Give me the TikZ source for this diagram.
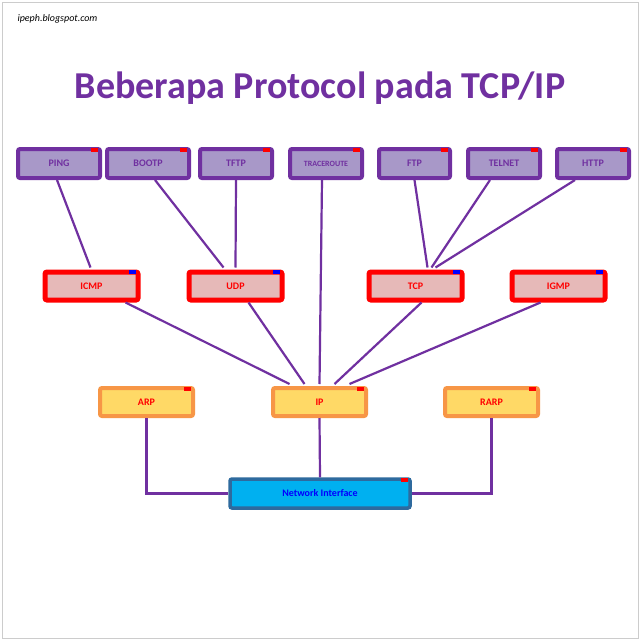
\documentclass[tikz,border=0pt]{standalone}
\usepackage{fontspec}
\setmainfont{Carlito}
\begin{document}
\begin{tikzpicture}[x=1pt,y=-1pt,
 topb/.style={draw=purpleD,fill=purpleL,line width=4pt,rounded corners=2pt,text=purpleD,font=\bfseries\fontsize{10}{11}\selectfont},
 midb/.style={draw=red,fill=pinkL,line width=5pt,rounded corners=2pt,text=red,font=\bfseries\fontsize{10}{11}\selectfont},
 lowb/.style={draw=orangeD,fill=yellowL,line width=4pt,rounded corners=2pt,text=red,font=\bfseries\fontsize{10}{11}\selectfont},
 nib/.style={draw=blueD,fill=cyanL,line width=3.5pt,rounded corners=2pt,text=blue,font=\bfseries\fontsize{10}{11}\selectfont},
 ln/.style={draw=purpleD,line width=2.2pt}]
\definecolor{purpleD}{HTML}{7030A0}
\definecolor{purpleL}{HTML}{A898C8}
\definecolor{pinkL}{HTML}{E6B9B8}
\definecolor{orangeD}{HTML}{F79646}
\definecolor{yellowL}{HTML}{FFD966}
\definecolor{blueD}{HTML}{2E6A9E}
\definecolor{cyanL}{HTML}{00B0F0}
\useasboundingbox (0,0) rectangle (640,640);
\fill[white] (0,0) rectangle (640,640);
\draw[gray!40,line width=1pt] (2,2) rectangle (638,638);
\node[anchor=west,font=\itshape\fontsize{10}{11}\selectfont] (site) at (14,19) {ipeph.blogspot.com};
\node[text=purpleD,font=\bfseries\fontsize{38}{44}\selectfont] (title) at (320,88) {Beberapa Protocol pada TCP/IP};
\newcommand\mybox[7]{\node[#1,minimum width=#4-#2-4,minimum height=#5-#3-4,inner sep=0pt] (#6) at ({(#2+#4)/2},{(#3+#5)/2}) {#7};}
\mybox{topb}{16}{147}{102}{180}{ping}{PING}
\mybox{topb}{105}{147}{191}{180}{bootp}{BOOTP}
\mybox{topb}{198}{147}{274}{180}{tftp}{TFTP}
\mybox{topb}{288}{147}{364}{180}{trace}{\fontsize{8}{9}\selectfont TRACEROUTE}
\mybox{topb}{377}{147}{452}{180}{ftp}{FTP}
\mybox{topb}{466}{147}{542}{180}{telnet}{TELNET}
\mybox{topb}{555}{147}{631}{180}{http}{HTTP}
\mybox{midb}{43}{270}{140}{302}{icmp}{ICMP}
\mybox{midb}{187}{270}{284}{302}{udp}{UDP}
\mybox{midb}{367}{270}{464}{302}{tcp}{TCP}
\mybox{midb}{510}{270}{607}{302}{igmp}{IGMP}
\mybox{lowb}{98}{386}{195}{418}{arp}{ARP}
\mybox{lowb}{271}{386}{368}{418}{ip}{IP}
\mybox{lowb}{443}{386}{540}{418}{rarp}{RARP}
\mybox{nib}{228}{477}{412}{510}{ni}{Network Interface}
\foreach \n in {ping,bootp,tftp,trace,ftp,telnet,http,arp,ip,rarp,ni}
  \fill[red] ([xshift=-4pt,yshift=-0.5pt]\n.north east) rectangle ++(-7,4);
\foreach \n in {icmp,udp,tcp,igmp}
  \fill[blue] ([xshift=-5pt,yshift=-0.5pt]\n.north east) rectangle ++(-7,4);
\path[ln] ([xshift=-2pt]ping.south) -- ([xshift=-1pt,yshift=2pt]icmp.north);
\path[ln] ([xshift=7pt]bootp.south) -- ([xshift=-12pt,yshift=2pt]udp.north);
\path[ln] (tftp.south) -- ([yshift=2pt]udp.north);
\path[ln] ([xshift=-4pt]trace.south) -- ([xshift=0pt,yshift=2pt]ip.north);
\path[ln] (ftp.south) -- ([xshift=12pt,yshift=2pt]tcp.north);
\path[ln] ([xshift=-14pt]telnet.south) -- ([xshift=16pt,yshift=2pt]tcp.north);
\path[ln] ([xshift=-18pt]http.south) -- ([xshift=20pt,yshift=2pt]tcp.north);
\path[ln] ([xshift=34pt]icmp.south) -- ([xshift=-30pt,yshift=2pt]ip.north);
\path[ln] ([xshift=13pt]udp.south) -- ([xshift=-15pt,yshift=2pt]ip.north);
\path[ln] ([xshift=6pt]tcp.south) -- ([xshift=15pt,yshift=2pt]ip.north);
\path[ln] ([xshift=-18pt]igmp.south) -- ([xshift=30pt,yshift=2pt]ip.north);
\path[ln] (ip.south) -- (ni.north);
\path[ln] (arp.south) |- (ni.west);
\path[ln] (rarp.south) |- (ni.east);
\end{tikzpicture}
\end{document}
